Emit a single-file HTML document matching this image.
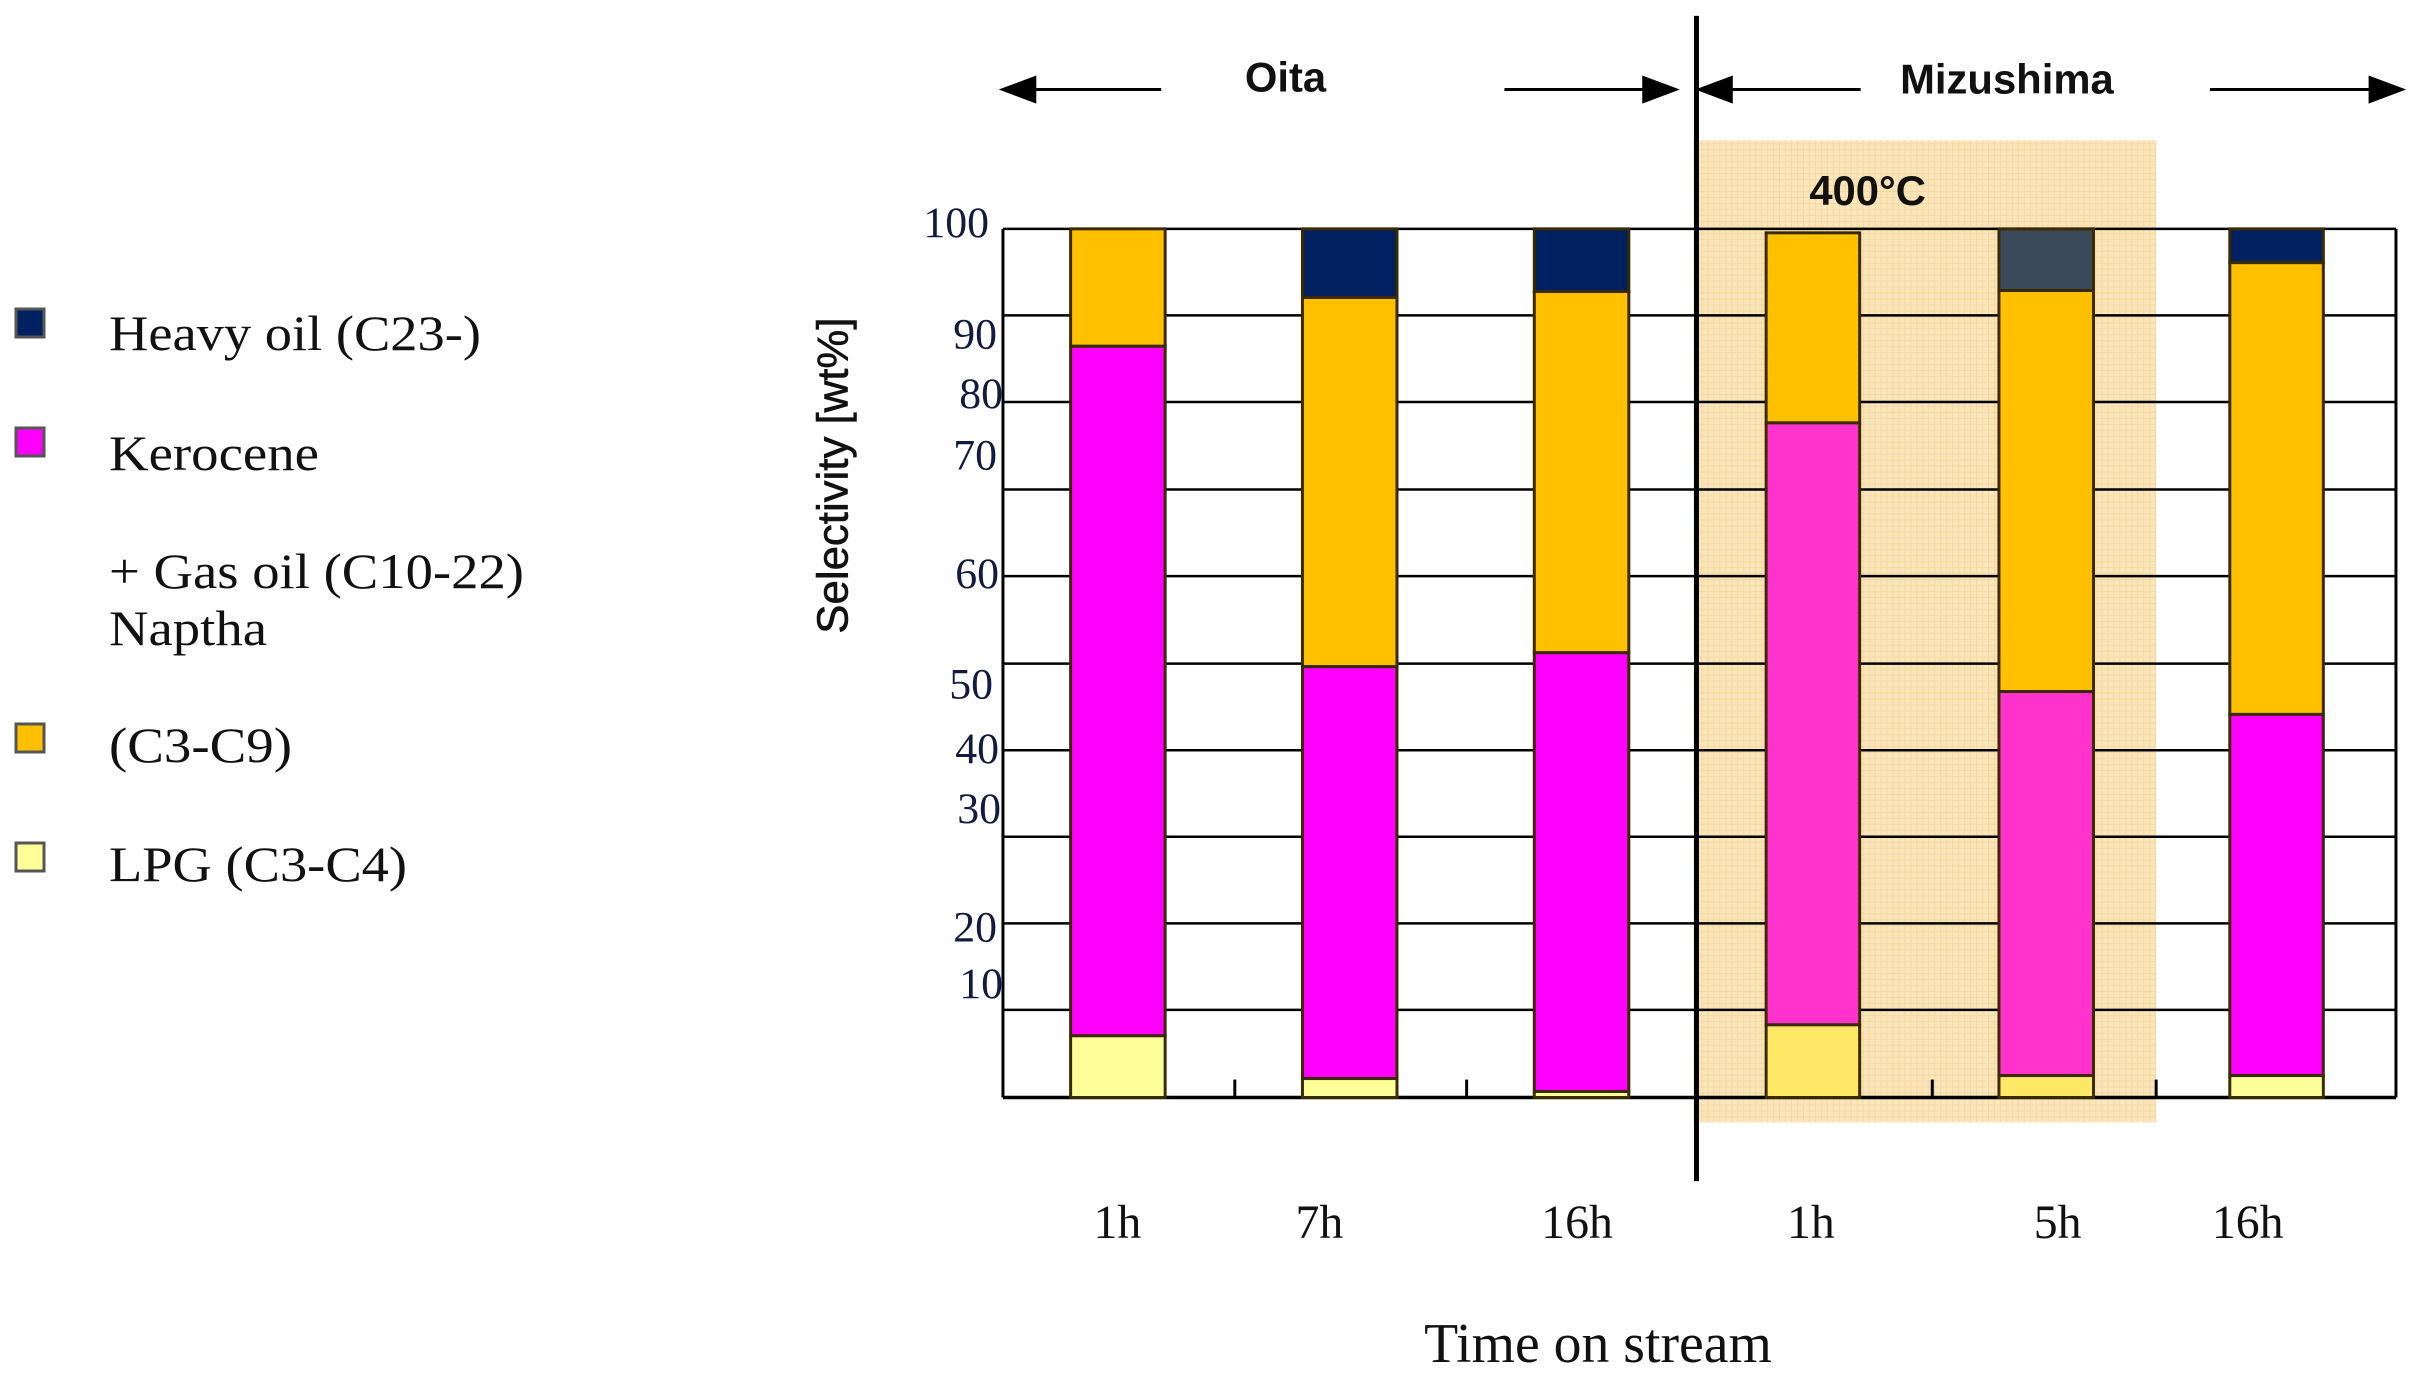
<!DOCTYPE html>
<html><head><meta charset="utf-8"><style>
html,body{margin:0;padding:0;background:#fff;}
svg{display:block}
.serif{font-family:"Liberation Serif",serif;}
.sans{font-family:"Liberation Sans",sans-serif;}
</style></head><body>
<svg width="2420" height="1386" viewBox="0 0 2420 1386" xmlns="http://www.w3.org/2000/svg">
<defs>
<pattern id="dots" width="6" height="6" patternUnits="userSpaceOnUse">
<rect width="6" height="6" fill="#fbe6bb"/>
<rect width="6" height="1" fill="#f3d9a0"/>
<rect width="1" height="6" fill="#f3d9a0"/>
</pattern>
</defs>
<rect width="2420" height="1386" fill="#fff"/>
<g transform="scale(0.995)">
<rect x="1008" y="230" width="1400" height="873" fill="#fff"/>
<rect x="1702" y="141" width="465" height="987" fill="url(#dots)"/>
<g stroke="#000" stroke-width="2.5">
<line x1="1008" y1="230" x2="2408" y2="230"/>
<line x1="1008" y1="317" x2="2408" y2="317"/>
<line x1="1008" y1="404" x2="2408" y2="404"/>
<line x1="1008" y1="492" x2="2408" y2="492"/>
<line x1="1008" y1="579" x2="2408" y2="579"/>
<line x1="1008" y1="667" x2="2408" y2="667"/>
<line x1="1008" y1="754" x2="2408" y2="754"/>
<line x1="1008" y1="841" x2="2408" y2="841"/>
<line x1="1008" y1="928" x2="2408" y2="928"/>
<line x1="1008" y1="1015" x2="2408" y2="1015"/>
</g>
<line x1="1008" y1="1103" x2="2408" y2="1103" stroke="#000" stroke-width="3.5"/>
<line x1="1008" y1="230" x2="1008" y2="1103" stroke="#000" stroke-width="3"/>
<line x1="2408" y1="230" x2="2408" y2="1103" stroke="#000" stroke-width="3"/>
<g stroke="#000" stroke-width="3">
<line x1="1241" y1="1085" x2="1241" y2="1103"/>
<line x1="1474" y1="1085" x2="1474" y2="1103"/>
<line x1="1942" y1="1085" x2="1942" y2="1103"/>
<line x1="2167" y1="1085" x2="2167" y2="1103"/>
</g>
<g stroke="#3a2a00" stroke-width="3">
<rect x="1076" y="230" width="95" height="118" fill="#ffc000"/>
<rect x="1076" y="348" width="95" height="693" fill="#ff00ff"/>
<rect x="1076" y="1041" width="95" height="62" fill="#ffff99"/>
<rect x="1309" y="230" width="95" height="69" fill="#002060"/>
<rect x="1309" y="299" width="95" height="371" fill="#ffc000"/>
<rect x="1309" y="670" width="95" height="414" fill="#ff00ff"/>
<rect x="1309" y="1084" width="95" height="19" fill="#ffff99"/>
<rect x="1542" y="230" width="95" height="63" fill="#002060"/>
<rect x="1542" y="293" width="95" height="363" fill="#ffc000"/>
<rect x="1542" y="656" width="95" height="441" fill="#ff00ff"/>
<rect x="1542" y="1097" width="95" height="6" fill="#ffff99"/>
<rect x="1775" y="234" width="94" height="191" fill="#ffc000"/>
<rect x="1775" y="425" width="94" height="605" fill="#ff33cc"/>
<rect x="1775" y="1030" width="94" height="73" fill="#ffe866"/>
<rect x="2009" y="230" width="95" height="62" fill="#3a4a5a"/>
<rect x="2009" y="292" width="95" height="403" fill="#ffc000"/>
<rect x="2009" y="695" width="95" height="386" fill="#ff33cc"/>
<rect x="2009" y="1081" width="95" height="22" fill="#ffe866"/>
<rect x="2241" y="230" width="94" height="34" fill="#002060"/>
<rect x="2241" y="264" width="94" height="454" fill="#ffc000"/>
<rect x="2241" y="718" width="94" height="363" fill="#ff00ff"/>
<rect x="2241" y="1081" width="94" height="22" fill="#ffff99"/>
</g>
<line x1="1705" y1="16" x2="1705" y2="1187" stroke="#000" stroke-width="5"/>
<g stroke="#000" stroke-width="3" fill="#000">
<line x1="1030" y1="90" x2="1167" y2="90"/>
<polygon points="1008,90 1040,78 1040,102"/>
<line x1="1512" y1="90" x2="1660" y2="90"/>
<polygon points="1684,90 1652,78 1652,102"/>
<line x1="1730" y1="90" x2="1870" y2="90"/>
<polygon points="1708,90 1740,78 1740,102"/>
<line x1="2221" y1="90" x2="2390" y2="90"/>
<polygon points="2414,90 2382,78 2382,102"/>
</g>
<g class="sans" font-weight="bold" font-size="42" fill="#111" text-anchor="middle">
<text x="1292" y="92">Oita</text>
<text x="2017" y="94">Mizushima</text>
<text x="1877" y="206">400°C</text>
</g>
<g class="serif" font-size="44" fill="#111a40" text-anchor="end">
<text x="994" y="238">100</text>
<text x="1002" y="350">90</text>
<text x="1008" y="410">80</text>
<text x="1002" y="472">70</text>
<text x="1004" y="591">60</text>
<text x="998" y="702">50</text>
<text x="1004" y="767">40</text>
<text x="1006" y="827">30</text>
<text x="1002" y="946">20</text>
<text x="1008" y="1003">10</text>
</g>
<text class="sans" font-size="44" fill="#111" stroke="#111" stroke-width="0.6" transform="translate(852,478) rotate(-90)" text-anchor="middle">Selectivity [wt%]</text>
<g class="serif" font-size="48" fill="#111" text-anchor="middle">
<text x="1123" y="1244">1h</text>
<text x="1326" y="1244">7h</text>
<text x="1585" y="1244">16h</text>
<text x="1820" y="1244">1h</text>
<text x="2068" y="1244">5h</text>
<text x="2259" y="1244">16h</text>
<text x="1606" y="1369" font-size="56">Time on stream</text>
</g>
</g>
<g stroke="#555" stroke-width="3">
<rect x="16" y="309" width="28" height="28" fill="#002060"/>
<rect x="16" y="428" width="28" height="28" fill="#ff00ff"/>
<rect x="16" y="724" width="28" height="28" fill="#ffc000"/>
<rect x="16" y="843" width="28" height="28" fill="#ffff99"/>
</g>
<g class="serif" font-size="50" fill="#111">
<text x="109" y="350" textLength="372" lengthAdjust="spacingAndGlyphs">Heavy oil (C23-)</text>
<text x="109" y="470" textLength="210" lengthAdjust="spacingAndGlyphs">Kerocene</text>
<text x="109" y="588" textLength="415" lengthAdjust="spacingAndGlyphs">+ Gas oil (C10-22)</text>
<text x="109" y="645" textLength="158" lengthAdjust="spacingAndGlyphs">Naptha</text>
<text x="109" y="762" textLength="183" lengthAdjust="spacingAndGlyphs">(C3-C9)</text>
<text x="109" y="881" textLength="298" lengthAdjust="spacingAndGlyphs">LPG (C3-C4)</text>
</g>
</svg>
</body></html>
